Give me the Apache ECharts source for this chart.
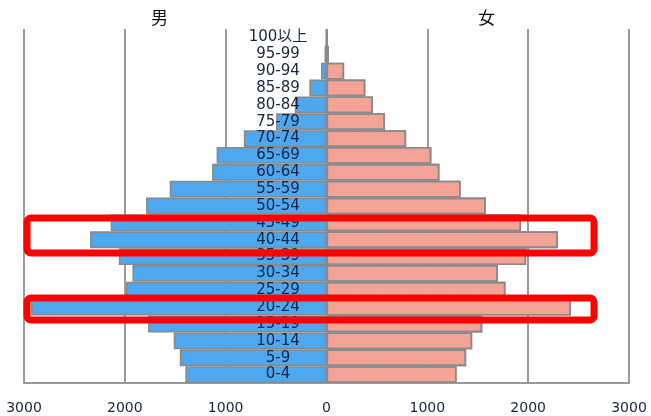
<!DOCTYPE html>
<html><head><meta charset="utf-8">
<script src="https://cdn.jsdelivr.net/npm/echarts@6/dist/echarts.min.js"></script>
<style>html,body{margin:0;padding:0;background:#fff}#c{width:651px;height:416px}</style>
</head><body><div id="c"></div>
<script>
const ageGroups = ['0-4','5-9','10-14','15-19','20-24','25-29','30-34','35-39','40-44','45-49','50-54','55-59','60-64','65-69','70-74','75-79','80-84','85-89','90-94','95-99','100以上'];
const male   = [1400,1455,1515,1770,2930,1990,1925,2060,2345,2140,1790,1555,1135,1090,820,500,315,170,55,20,3];
const female = [1290,1385,1445,1545,2425,1775,1700,1980,2295,1930,1580,1330,1120,1040,790,580,460,385,175,25,4];
const xTicks = [-3000,-2000,-1000,0,1000,2000,3000];
const sideTitles = ['男','女'];

const chart = echarts.init(document.getElementById('c'), null, {renderer:'canvas'});
const font = '"Noto Sans CJK JP","Noto Sans CJK SC",sans-serif';
const labFont = '"DejaVu Sans","Noto Sans CJK JP",sans-serif';
chart.setOption({
  animation:false,
  backgroundColor:'#fff',
  grid:{left:24,right:22,top:29,bottom:33,containLabel:false},
  xAxis:{type:'value',min:xTicks[0],max:xTicks[xTicks.length-1],interval:1000,
    axisLine:{show:true,lineStyle:{color:'#9a9a9a',width:2}},
    axisTick:{show:false},
    splitLine:{show:true,lineStyle:{color:'#9a9a9a',width:2}},
    axisLabel:{formatter:v=>Math.abs(v),color:'#1b2440',fontSize:14,fontFamily:labFont,margin:18}},
  yAxis:{type:'category',data:ageGroups,offset:-303,
    axisLine:{show:false},axisTick:{show:false},splitLine:{show:false},
    axisLabel:{align:'center',margin:49,color:'#1b2440',fontSize:15,fontFamily:labFont,showMinLabel:true,showMaxLabel:true,interval:0},
    z:10},
  series:[
    {name:sideTitles[0],type:'bar',stack:'p',data:male.map(v=>-v),barCategoryGap:'0%',
      itemStyle:{color:'#4ea8ef',borderColor:'#8a8a8a',borderWidth:1.6},z:2},
    {name:sideTitles[1],type:'bar',stack:'p',data:female,barCategoryGap:'0%',
      itemStyle:{color:'#f4a397',borderColor:'#8a8a8a',borderWidth:1.6,
        decal:{symbol:'rect',symbolSize:0.6,dashArrayX:[1,2],dashArrayY:[1,2],color:'rgba(225,120,110,0.4)'}},z:2}
  ],
  graphic:[
    {type:'text',left:151,top:9,style:{text:sideTitles[0],fontSize:17,fontFamily:font,fill:'#111'}},
    {type:'text',left:478,top:9,style:{text:sideTitles[1],fontSize:17,fontFamily:font,fill:'#111'}},
    {type:'rect',shape:{x:27,y:218,width:567,height:35,r:4},style:{fill:'none',stroke:'#ff0000',lineWidth:7},z:100},
    {type:'rect',shape:{x:27,y:298,width:567,height:22,r:4},style:{fill:'none',stroke:'#ff0000',lineWidth:7},z:100}
  ]
});
</script></body></html>
